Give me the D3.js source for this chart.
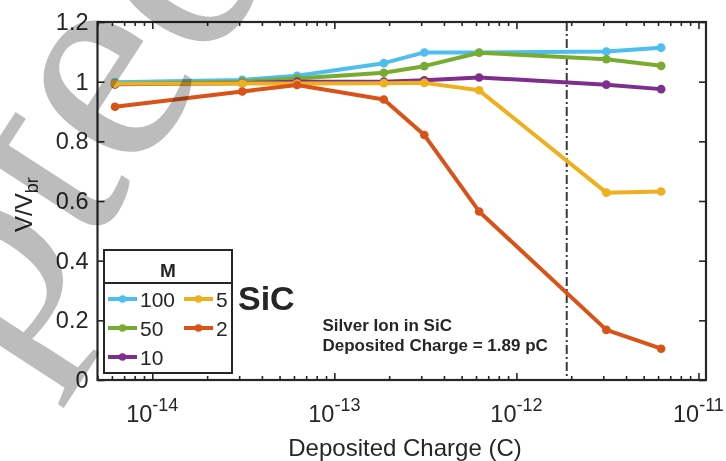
<!DOCTYPE html>
<html>
<head>
<meta charset="utf-8">
<script src="https://cdn.jsdelivr.net/npm/d3@7"></script>
<style>
  body { margin: 0; background: #fff; }
  svg { display: block; }
  text { font-family: "Liberation Sans", Arial, sans-serif; fill: #262626; }
</style>
</head>
<body>
<svg id="chart" width="726" height="461"></svg>
<script>
// Deposited charge (C) for each simulated strike
const charge = [6.24e-15, 3.12e-14, 6.24e-14, 1.87e-13, 3.12e-13, 6.24e-13, 3.12e-12, 6.24e-12];

// Normalised voltage V/Vbr for each multiplication factor M
const m100 = [0.998, 1.006, 1.020, 1.062, 1.098, 1.098, 1.101, 1.114];
const m50  = [0.992, 1.000, 1.011, 1.030, 1.052, 1.097, 1.075, 1.053];
const m10  = [0.991, 0.995, 1.000, 1.000, 1.005, 1.014, 0.990, 0.975];
const m5   = [0.993, 0.994, 0.994, 0.995, 0.996, 0.971, 0.628, 0.632];
const m2   = [0.916, 0.967, 0.989, 0.940, 0.821, 0.565, 0.168, 0.105];

const seriesNames  = ["100", "50", "10", "5", "2"];
const seriesValues = [m100, m50, m10, m5, m2];
const seriesColors = ["#4DBEEE", "#77AC30", "#7E2F8E", "#EDB120", "#D95319"];

const xTickExponents = [-14, -13, -12, -11];
const yTicks = [0, 0.2, 0.4, 0.6, 0.8, 1, 1.2];
const silverCharge = 1.89e-12;   // deposited charge of the silver ion

const svg = d3.select("#chart");
const plotL = 97.5, plotR = 706, plotT = 22, plotB = 380;

const x = d3.scaleLog().domain([5e-15, 1.1e-11]).range([plotL, plotR]);
const y = d3.scaleLinear().domain([0, 1.2]).range([plotB, plotT]);

const axisColor = "#262626";

// minor ticks of the log axis
const minorTicks = [];
for (let e = -15; e <= -11; e++) {
  for (let k = 2; k <= 9; k++) {
    const v = k * Math.pow(10, e);
    if (v >= 5e-15 && v <= 1.1e-11) minorTicks.push(v);
  }
}
const majorTicks = xTickExponents.map(e => Math.pow(10, e));

function styleAxis(g) {
  g.select(".domain").remove();
  g.selectAll(".tick line").attr("stroke", axisColor).attr("stroke-width", 1.6);
}

// bottom & top axes (ticks pointing inward)
svg.append("g").attr("transform", `translate(0,${plotB})`)
  .call(d3.axisBottom(x).tickValues(majorTicks).tickSize(-7).tickFormat(""))
  .call(styleAxis);
svg.append("g").attr("transform", `translate(0,${plotB})`)
  .call(d3.axisBottom(x).tickValues(minorTicks).tickSize(-4).tickFormat(""))
  .call(styleAxis);
svg.append("g").attr("transform", `translate(0,${plotT})`)
  .call(d3.axisTop(x).tickValues(majorTicks).tickSize(-7).tickFormat(""))
  .call(styleAxis);
svg.append("g").attr("transform", `translate(0,${plotT})`)
  .call(d3.axisTop(x).tickValues(minorTicks).tickSize(-4).tickFormat(""))
  .call(styleAxis);

// left & right axes
const yLeft = svg.append("g").attr("transform", `translate(${plotL},0)`)
  .call(d3.axisLeft(y).tickValues(yTicks).tickSize(-7).tickPadding(9)
    .tickFormat(d => d === 0 ? "0" : d === 1 ? "1" : d3.format(".1f")(d)))
  .call(styleAxis);
yLeft.selectAll(".tick text")
  .attr("font-size", 23.5).attr("fill", axisColor)
  .style("font-family", '"Liberation Sans", Arial, sans-serif');
svg.append("g").attr("transform", `translate(${plotR},0)`)
  .call(d3.axisRight(y).tickValues(yTicks).tickSize(-7).tickFormat(""))
  .call(styleAxis);

// x tick labels as 10^n
const xLabels = svg.append("g");
xTickExponents.forEach(e => {
  const t = xLabels.append("text")
    .attr("x", x(Math.pow(10, e))).attr("y", 421.5)
    .attr("text-anchor", "middle").attr("font-size", 23.5);
  t.append("tspan").text("10");
  t.append("tspan").attr("dy", -11).attr("font-size", 18).text("-" + Math.abs(e));
});

// vertical dash-dot marker at the silver-ion deposited charge
svg.append("line")
  .attr("x1", x(silverCharge)).attr("x2", x(silverCharge))
  .attr("y1", plotT).attr("y2", plotB)
  .attr("stroke", "#3a3a3a").attr("stroke-width", 2)
  .attr("stroke-dasharray", "9,3,2,3");

// data series
const line = d3.line().x((d, i) => x(charge[i])).y(d => y(d));
seriesValues.forEach((vals, s) => {
  const g = svg.append("g");
  g.append("path").datum(vals)
    .attr("d", line).attr("fill", "none")
    .attr("stroke", seriesColors[s]).attr("stroke-width", 4)
    .attr("stroke-linejoin", "round");
  g.selectAll("circle").data(vals).join("circle")
    .attr("cx", (d, i) => x(charge[i])).attr("cy", d => y(d))
    .attr("r", 4.3).attr("fill", seriesColors[s]);
});

// plot frame
svg.append("rect")
  .attr("x", plotL).attr("y", plotT)
  .attr("width", plotR - plotL).attr("height", plotB - plotT)
  .attr("fill", "none").attr("stroke", axisColor).attr("stroke-width", 2.2);

// axis titles
svg.append("text").attr("x", 405).attr("y", 456)
  .attr("text-anchor", "middle").attr("font-size", 24)
  .text("Deposited Charge (C)");
const yt = svg.append("text")
  .attr("transform", "translate(32,232) rotate(-90)")
  .attr("font-size", 24);
yt.append("tspan").text("V/V");
yt.append("tspan").attr("dy", 6).attr("font-size", 18).text("br");

// annotations
svg.append("text").attr("x", 238).attr("y", 310)
  .attr("font-size", 34).attr("font-weight", "bold").attr("fill", "#000")
  .text("SiC");
const note = svg.append("text").attr("font-size", 17).attr("font-weight", "bold")
  .attr("fill", "#111");
note.append("tspan").attr("x", 322.5).attr("y", 330.5).text("Silver Ion in SiC");
note.append("tspan").attr("x", 322.5).attr("y", 351).text("Deposited Charge = 1.89 pC");

// legend
const lg = svg.append("g");
const lgX = 104, lgY = 250, lgW = 128, lgH = 123;
lg.append("rect").attr("x", lgX).attr("y", lgY).attr("width", lgW).attr("height", lgH)
  .attr("fill", "#fff").attr("stroke", axisColor).attr("stroke-width", 2);
lg.append("line").attr("x1", lgX).attr("x2", lgX + lgW).attr("y1", 283).attr("y2", 283)
  .attr("stroke", axisColor).attr("stroke-width", 2);
lg.append("text").attr("x", lgX + lgW / 2).attr("y", 277)
  .attr("text-anchor", "middle").attr("font-size", 19).attr("font-weight", "bold")
  .attr("fill", "#000").text("M");
const slots = [[108, 299], [108, 328], [108, 357], [184, 299], [184, 328]];
seriesNames.forEach((name, s) => {
  const [sx, sy] = slots[s];
  lg.append("line").attr("x1", sx).attr("x2", sx + 29).attr("y1", sy).attr("y2", sy)
    .attr("stroke", seriesColors[s]).attr("stroke-width", 4);
  lg.append("circle").attr("cx", sx + 14.5).attr("cy", sy).attr("r", 3.8)
    .attr("fill", seriesColors[s]);
  lg.append("text").attr("x", sx + 32).attr("y", sy + 8)
    .attr("font-size", 21).text(name);
});

// diagonal watermark across the upper-left of the figure
svg.append("text")
  .attr("transform", "translate(-328,894) rotate(-57)")
  .attr("font-size", 300)
  .style("font-family", '"Liberation Serif", "Times New Roman", serif')
  .style("fill", "#bcbcbc")
  .style("mix-blend-mode", "multiply")
  .text("Accepted");
</script>
</body>
</html>
